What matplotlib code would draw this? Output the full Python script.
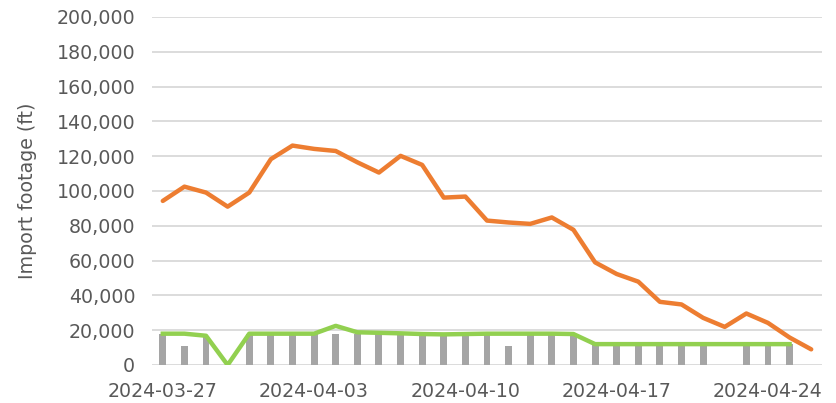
"""Import footage per day: total remaining, daily capacity and daily imports."""
import numpy as np
import pandas as pd
import matplotlib
matplotlib.use('Agg')
from matplotlib import pyplot as plt

dates = pd.date_range('2024-03-27', '2024-04-26', freq='D')

# remaining footage (orange)
remaining = [94300, 102500, 99100, 91000, 99100, 118300, 126100, 124200,
             123000, 116500, 110600, 120200, 115000, 96200, 96800, 83000,
             81900, 81100, 84800, 77700, 59000, 52300, 47900, 36300,
             34800, 27100, 21900, 29600, 24200, 15800, 9000]

# daily target (green), ends 2024-04-25
target = [18000, 18000, 16800, 0, 18000, 18000, 18000, 18000, 22500,
          18800, 18500, 18200, 17800, 17600, 17800, 18000, 18000, 18000,
          18000, 17800, 12000, 12000, 12000, 12000, 12000, 12000, 12000,
          12000, 12000, 12000]

# daily imports (grey bars), ends 2024-04-25
imported = [18000, 10800, 16500, 0, 18000, 18000, 18000, 18000, 18000,
            18000, 18000, 18000, 17500, 17500, 17500, 18000, 10800, 18000,
            18000, 18000, 12000, 12000, 12000, 12000, 12000, 12000, 0,
            12000, 12000, 12000]

tick_every = 7

TEXT = '#595959'
plt.rcParams['font.family'] = ['DejaVu Sans']
plt.rcParams['font.size'] = 13.7

fig = plt.figure(figsize=(8.36, 4.03), dpi=100)
ax = fig.add_axes([152 / 836, 38 / 403, 670 / 836, 348 / 403])

x = np.arange(len(dates))
ax.bar(x[:len(imported)], imported, width=0.32, color='#A5A5A5', zorder=2)
ax.plot(x[:len(target)], target, color='#92D050', lw=3.2,
        solid_joinstyle='round', zorder=3)
ax.plot(x, remaining, color='#ED7D31', lw=3.2,
        solid_joinstyle='round', solid_capstyle='round', zorder=4)

ax.set_xlim(-0.5, len(dates) - 0.5)
ax.set_ylim(0, 200000)
ax.set_yticks(np.arange(0, 200001, 20000))
ax.yaxis.set_major_formatter(matplotlib.ticker.StrMethodFormatter('{x:,.0f}'))
ticks = x[::tick_every]
ax.set_xticks(ticks)
ax.set_xticklabels([dates[i].strftime('%Y-%m-%d') for i in ticks])

ax.grid(axis='y', color='#D9D9D9', lw=1.3, zorder=0)
for side in ['top', 'right', 'left', 'bottom']:
    ax.spines[side].set_visible(False)
ax.tick_params(axis='both', length=0, colors=TEXT)
ax.tick_params(axis='y', pad=12)
ax.tick_params(axis='x', pad=12)
ax.set_ylabel('Import footage (ft)', color=TEXT, labelpad=14)

fig.savefig('out.png', dpi=100)
